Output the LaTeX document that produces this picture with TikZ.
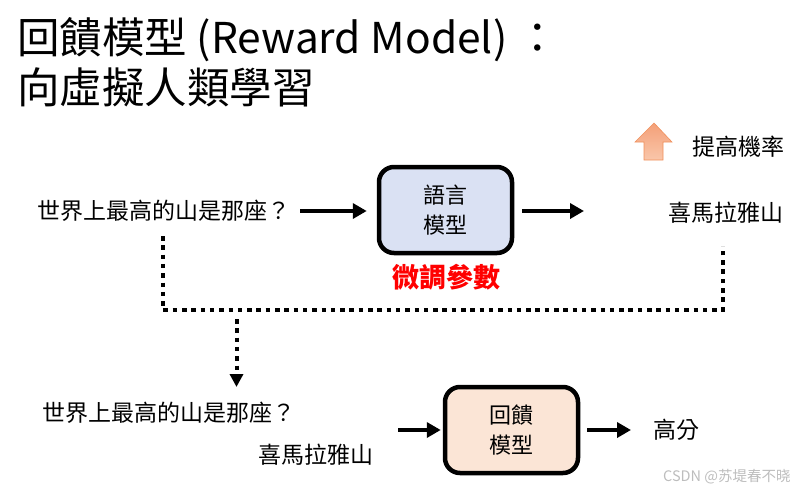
\documentclass[tikz,border=0pt]{standalone}
\usepackage{fontspec}
\setmainfont{Noto Sans CJK TC}
\newfontfamily\sccjk{Noto Sans CJK SC}
\usetikzlibrary{arrows.meta}
\definecolor{lmfill}{HTML}{DAE1F3}
\definecolor{rmfill}{HTML}{FBE5D6}
\definecolor{uptop}{HTML}{F4A078}
\definecolor{upbot}{HTML}{F9C6AA}
\definecolor{upline}{HTML}{F0905C}
\definecolor{wm}{HTML}{BDBDBD}
\tikzset{
  txt/.style={inner sep=0pt, anchor=west, font=\fontsize{23}{28}\selectfont},
  ttl/.style={inner sep=0pt, anchor=west, font=\fontsize{42.5}{50}\selectfont},
  modelbox/.style={draw=black, line width=4.5pt, rounded corners=15pt,
    minimum width=133pt, minimum height=86pt, align=center, inner sep=0pt,
    font=\fontsize{22}{30}\selectfont},
  flow/.style={line width=4.5pt, -{Triangle[length=14pt,width=15pt]}},
  dots/.style={line width=4pt, dash pattern=on 4.5pt off 4.8pt},
}
\begin{document}
\begin{tikzpicture}[x=1pt,y=-1pt]
\useasboundingbox (0,0) rectangle (807,493);
% title
\node[ttl] (t1) at (17,40) {回饋模型 (Reward Model) ：};
\node[ttl] (t2) at (17,87) {向虛擬人類學習};
% top row
\node[txt] (q1) at (37,211) {世界上最高的山是那座？};
\node[modelbox, fill=lmfill] (lm) at (445.5,210) {語言\\模型};
\node[txt] (o1) at (668,213) {喜馬拉雅山};
\coordinate (a2end) at (584,211);
\draw[flow] (q1.east |- 0,211) ++(10,0) -- (lm.west |- 0,211) [shorten >=10pt];
\draw[flow, shorten <=8pt] (lm.east |- a2end) -- (a2end);
\node[inner sep=0pt, font=\fontsize{27}{30}\selectfont\bfseries, text=red] (tune) at (446,277) {微調參數};
% up arrow
\shade[top color=uptop, bottom color=upbot, draw=upline, line width=0.6pt]
  (654,123) -- (672,142) -- (663,142) -- (663,160) -- (644,160) -- (644,142) -- (635,142) -- cycle;
\node[txt] (prob) at (692,147) {提高機率};
% dotted connector
\coordinate (dl) at (163,236);
\coordinate (dc) at (163,310);
\coordinate (dr) at (722.5,310);
\coordinate (du) at (722.5,246);
\draw[dots] (dl) -- (dc) -- (dr) -- (du);
\coordinate (ds) at (236.5,319);
\coordinate (de) at (236.5,387);
\draw[dots, -{Triangle[length=13pt,width=13pt]}] (ds) -- (de);
% bottom row
\node[txt] (q2) at (42,413) {世界上最高的山是那座？};
\node[txt] (o2) at (258,455) {喜馬拉雅山};
\node[modelbox, fill=rmfill] (rm) at (511.5,430) {回饋\\模型};
\coordinate (a3start) at (398,430);
\draw[flow, shorten >=2pt] (a3start) -- (rm.west);
\node[txt] (score) at (653,430) {高分};
\draw[flow, shorten <=7pt, shorten >=22pt] (rm.east) -- (score.west);
% watermark
\node[inner sep=0pt, anchor=west, text=wm, font=\sccjk\fontsize{14.5}{16}\selectfont] (wmk) at (663,477) {CSDN @苏堤春不晓};
\end{tikzpicture}
\end{document}
